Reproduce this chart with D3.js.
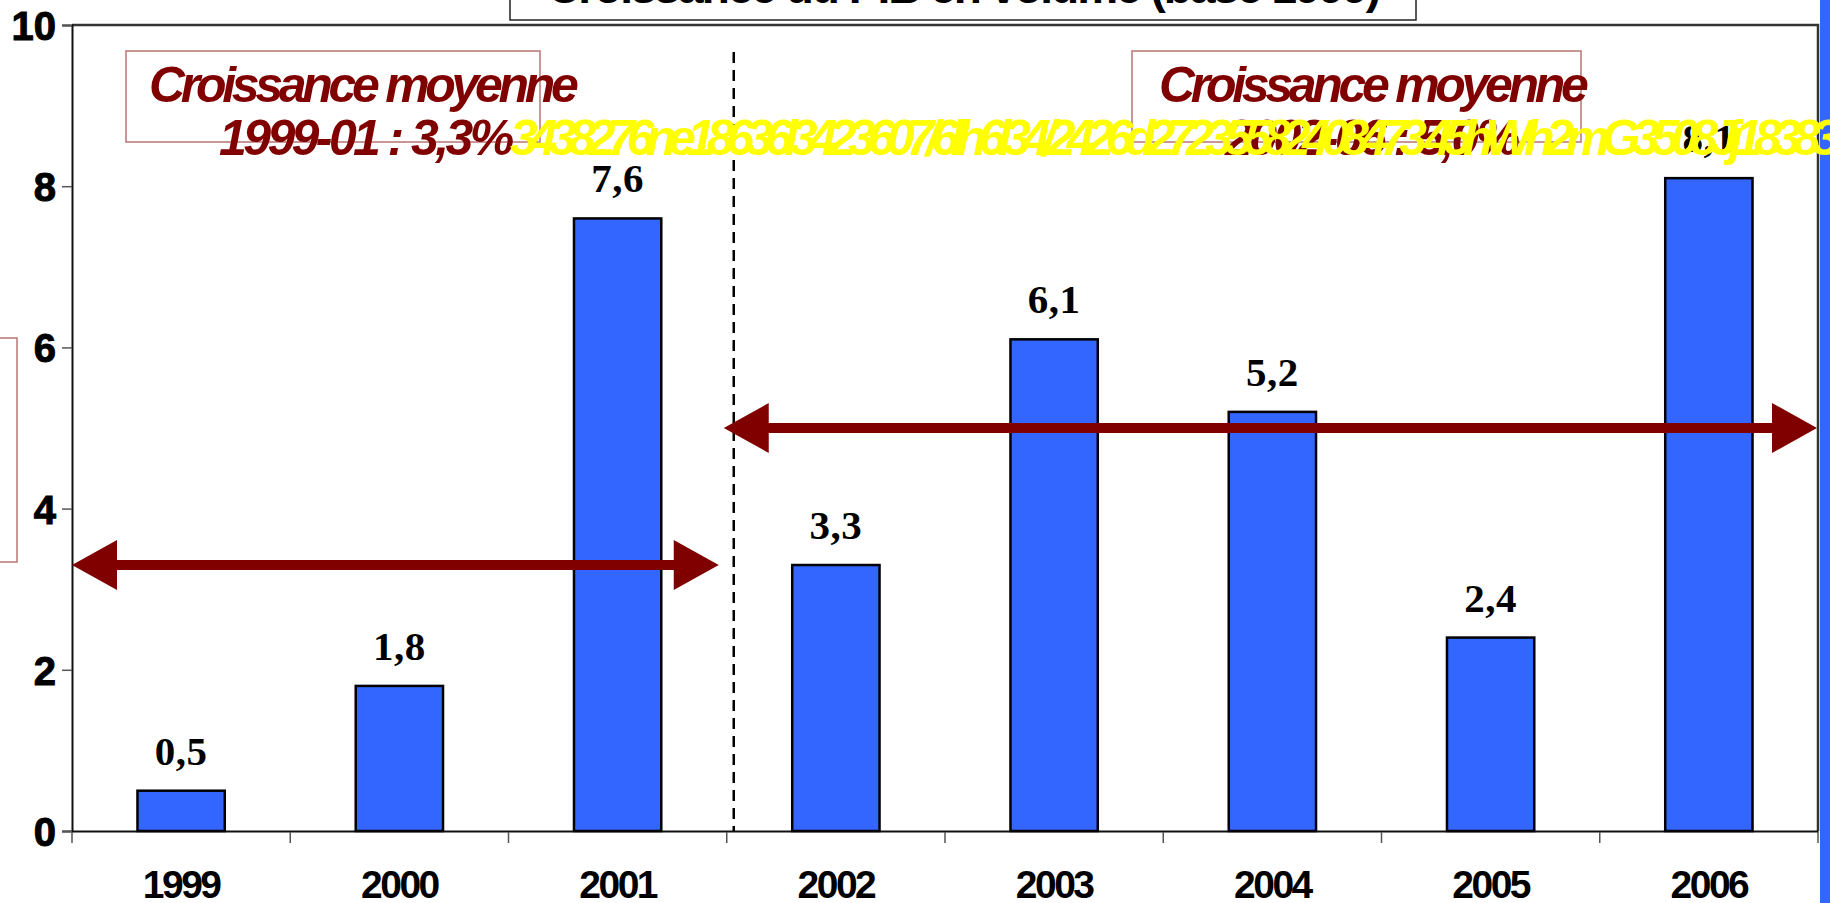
<!DOCTYPE html>
<html>
<head>
<meta charset="utf-8">
<script src="https://cdn.jsdelivr.net/npm/d3@7"></script>
<style>
  body { margin: 0; background: #fff; overflow: hidden; }
  svg { display: block; }
  .axis text { font-family: "Liberation Sans", Arial, sans-serif; font-weight: bold; fill: #000; }
</style>
</head>
<body>
<div class="chart"></div>
<script>
// values
var years = ["1999", "2000", "2001", "2002", "2003", "2004", "2005", "2006"];
var growth = [0.5, 1.8, 7.6, 3.3, 6.1, 5.2, 2.4, 8.1];
var growthLabels = ["0,5", "1,8", "7,6", "3,3", "6,1", "5,2", "2,4", "8,1"];
var yTicks = [0, 2, 4, 6, 8, 10];

// average growth per period
var periodFrom = ["1999", "2002"];
var periodTo = ["2001", "2006"];
var periodMean = [3.3, 5.0];
var periodText = ["1999-01 : 3,3%", "2002-06 : 5,0%"];

var titleText = "Croissance du PIB en volume (base 1999)";
var junkText = "3438276ne18636l3423607/6lh6l34/2426d27235582408473 45hWh2mG3508Jj18383";

var svg = d3.select(".chart").append("svg").attr("width", 1830).attr("height", 903),
    margin = {top: 25, right: 12, bottom: 72, left: 72},
    width  = +svg.attr("width") - margin.left - margin.right,
    height = +svg.attr("height") - margin.top - margin.bottom,
    x = d3.scaleBand().domain(years).range([margin.left, margin.left + width]),
    y = d3.scaleLinear().domain([0, 10]).range([margin.top + height, margin.top]);

var darkRed = "#800000", boxLine = "#b87474", barBlue = "#3366ff";
var barW = x.bandwidth() * 0.4;

// blue strip on the right side
svg.append("rect")
    .attr("x", 1820).attr("y", 0)
    .attr("width", 10).attr("height", 903)
    .attr("fill", barBlue);

// part of a box outside the picture on the left
svg.append("rect")
    .attr("x", -40).attr("y", 338)
    .attr("width", 57).attr("height", 224)
    .attr("fill", "none").attr("stroke", boxLine).attr("stroke-width", 1.5);

// title box, mostly cut off at the top
svg.append("rect")
    .attr("x", 510).attr("y", -60)
    .attr("width", 906).attr("height", 80)
    .attr("fill", "#fff").attr("stroke", "#222").attr("stroke-width", 1.5);
svg.append("text")
    .attr("x", 963).attr("y", 3)
    .attr("text-anchor", "middle")
    .style("font-family", "Liberation Sans, Arial, sans-serif")
    .style("font-weight", "bold")
    .style("font-size", "46px")
    .style("letter-spacing", "-2px")
    .text(titleText);

// frame top and right
svg.append("path")
    .attr("d", `M${margin.left},${y(10)}H${margin.left + width}V${y(0)}`)
    .attr("fill", "none").attr("stroke", "#333").attr("stroke-width", 2.5);

// y axis
var yAxis = svg.append("g")
    .attr("class", "axis")
    .attr("transform", `translate(${margin.left},0)`)
    .call(d3.axisLeft(y).tickValues(yTicks).tickSize(10).tickPadding(6).tickFormat(d3.format("d")));
yAxis.select(".domain").attr("stroke", "#111").attr("stroke-width", 2);
yAxis.selectAll(".tick line").attr("stroke", "#555").attr("stroke-width", 1.5);
yAxis.selectAll(".tick text").style("font-size", "40px").style("stroke", "#000").style("stroke-width", 1).attr("dy", "0.36em");

// x axis, ticks sit between the categories
var xAxis = svg.append("g")
    .attr("class", "axis")
    .attr("transform", `translate(0,${y(0)})`)
    .call(d3.axisBottom(x).tickSize(0).tickPadding(67));
xAxis.select(".domain").attr("stroke", "#111").attr("stroke-width", 2);
xAxis.selectAll(".tick text").style("font-size", "39px").style("letter-spacing", "-2.5px").attr("dy", 0);
xAxis.selectAll(".sep")
    .data(years.concat(["end"]))
    .enter().append("line")
      .attr("class", "sep")
      .attr("x1", (d, i) => margin.left + i * x.step())
      .attr("x2", (d, i) => margin.left + i * x.step())
      .attr("y1", 1).attr("y2", 12)
      .attr("stroke", "#555").attr("stroke-width", 1.5);

// dashed separator between the two periods
svg.append("line")
    .attr("x1", x("2002") + 7).attr("x2", x("2002") + 7)
    .attr("y1", 52).attr("y2", y(0))
    .attr("stroke", "#000").attr("stroke-width", 2.5)
    .attr("stroke-dasharray", "11,7");

// bars
svg.selectAll(".bar")
    .data(growth)
    .enter().append("rect")
      .attr("class", "bar")
      .attr("x", (d, i) => x(years[i]) + (x.bandwidth() - barW) / 2)
      .attr("y", d => y(d))
      .attr("width", barW)
      .attr("height", d => y(0) - y(d))
      .attr("fill", barBlue)
      .attr("stroke", "#000").attr("stroke-width", 2.5);

// value labels
svg.selectAll(".val")
    .data(growth)
    .enter().append("text")
      .attr("class", "val")
      .attr("x", (d, i) => x(years[i]) + x.bandwidth() / 2)
      .attr("y", d => y(d) - 26)
      .attr("text-anchor", "middle")
      .style("font-family", "Liberation Serif, Times New Roman, serif")
      .style("font-weight", "bold")
      .style("font-size", "41px")
      .style("letter-spacing", "0.5px")
      .text((d, i) => growthLabels[i]);

// double arrows at the period means
function arrowPath(x0, x1, yy) {
  var t = 5, hl = 45, hh = 25;
  return `M${x0},${yy}L${x0 + hl},${yy - hh}V${yy - t}H${x1 - hl}V${yy - hh}L${x1},${yy}` +
         `L${x1 - hl},${yy + hh}V${yy + t}H${x0 + hl}V${yy + hh}Z`;
}
svg.selectAll(".arrow")
    .data(periodMean)
    .enter().append("path")
      .attr("class", "arrow")
      .attr("d", (d, i) => i == 0
          ? arrowPath(x(periodFrom[i]), x(periodTo[i]) + x.bandwidth() - 8, y(d))
          : arrowPath(x(periodFrom[i]) - 3, x(periodTo[i]) + x.bandwidth() - 1, y(d)))
      .attr("fill", darkRed);

// annotation boxes
var boxX = [126, 1132];
var boxes = svg.selectAll(".note")
    .data(periodText)
    .enter().append("g")
      .attr("class", "note")
      .attr("transform", (d, i) => `translate(${boxX[i]},51)`);
boxes.append("rect")
    .attr("width", (d, i) => i == 0 ? 414 : 449)
    .attr("height", 91)
    .attr("fill", "none").attr("stroke", boxLine).attr("stroke-width", 1.5);
boxes.append("text")
    .attr("x", (d, i) => i == 0 ? 23 : 27).attr("y", 51)
    .style("font-family", "Liberation Sans, Arial, sans-serif")
    .style("font-weight", "bold").style("font-style", "italic")
    .style("font-size", "50px").style("letter-spacing", "-4.3px")
    .attr("fill", darkRed)
    .text("Croissance moyenne");
boxes.append("text")
    .attr("x", 93).attr("y", 104)
    .style("font-family", "Liberation Sans, Arial, sans-serif")
    .style("font-weight", "bold").style("font-style", "italic")
    .style("font-size", "50px").style("letter-spacing", "-3.6px")
    .attr("fill", darkRed)
    .text(d => d);

// stray yellow text running over the right half
svg.append("text")
    .attr("x", 510).attr("y", 155)
    .attr("textLength", 1330).attr("lengthAdjust", "spacing")
    .style("font-family", "Liberation Sans, Arial, sans-serif")
    .style("font-weight", "bold").style("font-style", "italic")
    .style("font-size", "50px")
    .attr("fill", "#ffff00")
    .text(junkText);
</script>
</body>
</html>
